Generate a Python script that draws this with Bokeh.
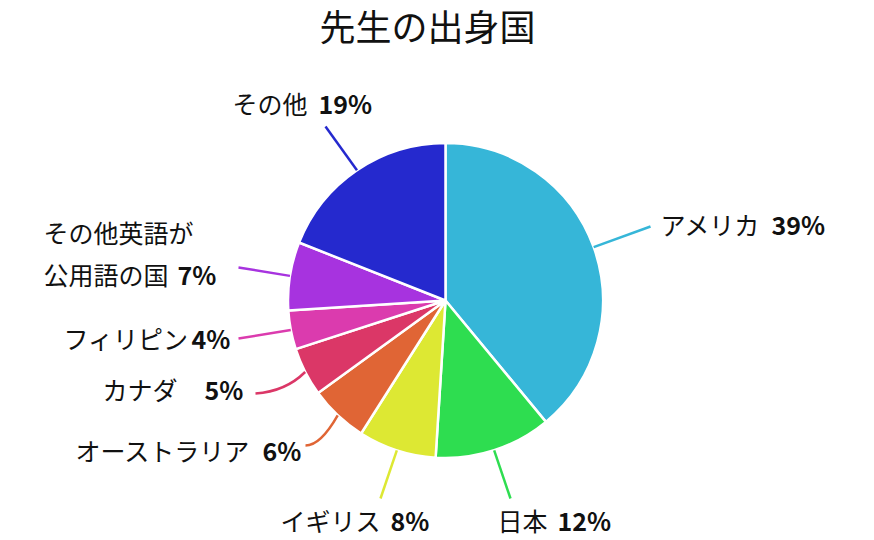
import math

from bokeh.plotting import figure
from bokeh.models import Range1d, ColumnDataSource
from bokeh.core.properties import value
from bokeh.embed import file_html
from bokeh.resources import INLINE

# --------------------------------------------------------------
# DATOS
# --------------------------------------------------------------

paises = ["アメリカ", "日本", "イギリス", "オーストラリア", "カナダ",
          "フィリピン", "その他英語が公用語の国", "その他"]
porcentajes = [39, 12, 8, 6, 5, 4, 7, 19]
colores = ["#36b6d8", "#2edd50", "#dde833", "#e06535", "#db3767",
           "#db3bae", "#a733df", "#2529ce"]

titulo = "先生の出身国"

# --------------------------------------------------------------
# LAYOUT (pixeles de pagina, y hacia abajo)
# --------------------------------------------------------------

CX, CY, R = 445, 300, 157.5
FONT = "Noto Sans CJK JP"
DY = -3  # correccion de la linea base del texto

def py(y):
    # pagina -> datos (eje y hacia arriba)
    return 540 - y

# nombre: (x, y) de cada linea; porcentaje: (x, y); linea guia: (control, fin)
etiquetas = [
    ([("アメリカ", 660, 226)], (771, 226), None, (650, 226)),
    ([("日本", 497, 522)], (557, 522), None, (510, 498)),
    ([("イギリス", 280, 522)], (390, 522), None, (380, 498)),
    ([("オーストラリア", 75, 452)], (262, 452), (320, 445), (305, 445)),
    ([("カナダ", 102, 391)], (204, 391), (285, 391), (255, 393)),
    ([("フィリピン", 63, 340)], (191, 340), None, (238, 338)),
    ([("その他英語が", 43, 234), ("公用語の国", 43, 276)], (177, 276), None, (238, 267)),
    ([("その他", 232, 105)], (318, 105), None, (325, 126)),
]

# --------------------------------------------------------------
# ANGULOS
# --------------------------------------------------------------

total = sum(porcentajes)
inicio, fin, medio = [], [], []
acum = 0
for v in porcentajes:
    a0 = math.pi / 2 - 2 * math.pi * acum / total
    acum += v
    a1 = math.pi / 2 - 2 * math.pi * acum / total
    inicio.append(a0)
    fin.append(a1)
    medio.append((a0 + a1) / 2)

source = ColumnDataSource(dict(pais=paises, pct=porcentajes, color=colores,
                               start=inicio, end=fin))

# --------------------------------------------------------------
# GRAFICA
# --------------------------------------------------------------

p = figure(width=858, height=540, x_range=Range1d(0, 858), y_range=Range1d(0, 540),
           x_axis_type=None, y_axis_type=None, toolbar_location=None,
           output_backend="svg", min_border=0)
p.grid.visible = False
p.outline_line_color = None
p.background_fill_color = "white"

p.wedge(x=CX, y=py(CY), radius=R, start_angle="start", end_angle="end",
        direction="clock", fill_color="color", line_color="white",
        line_width=2.5, source=source)

for i, (nombres, (px_, py_), ctrl, end) in enumerate(etiquetas):
    x0 = CX + R * math.cos(medio[i])
    y0 = py(CY) + R * math.sin(medio[i])
    x1, y1 = end[0], py(end[1])
    if ctrl is None:
        cx, cy = (x0 + x1) / 2, (y0 + y1) / 2
    else:
        cx, cy = ctrl[0], py(ctrl[1])
    p.quadratic(x0=x0, y0=y0, x1=x1, y1=y1, cx=cx, cy=cy,
                line_color=colores[i], line_width=2.5)

    for txt, tx, ty in nombres:
        p.text(x=[tx], y=[py(ty + DY)], text=[txt], text_font=value(FONT),
               text_font_size="25px", text_color="#111111",
               text_align="left", text_baseline="middle")
    p.text(x=[px_], y=[py(py_ + DY)], text=[f"{porcentajes[i]}%"], text_font=value(FONT),
           text_font_size="25px", text_font_style="bold", text_color="#111111",
           text_align="left", text_baseline="middle")

p.text(x=[427], y=[py(24)], text=[titulo], text_font=value(FONT),
       text_font_size="36px", text_color="#111111",
       text_align="center", text_baseline="middle")

open("out.html", "w").write(file_html(p, INLINE))
